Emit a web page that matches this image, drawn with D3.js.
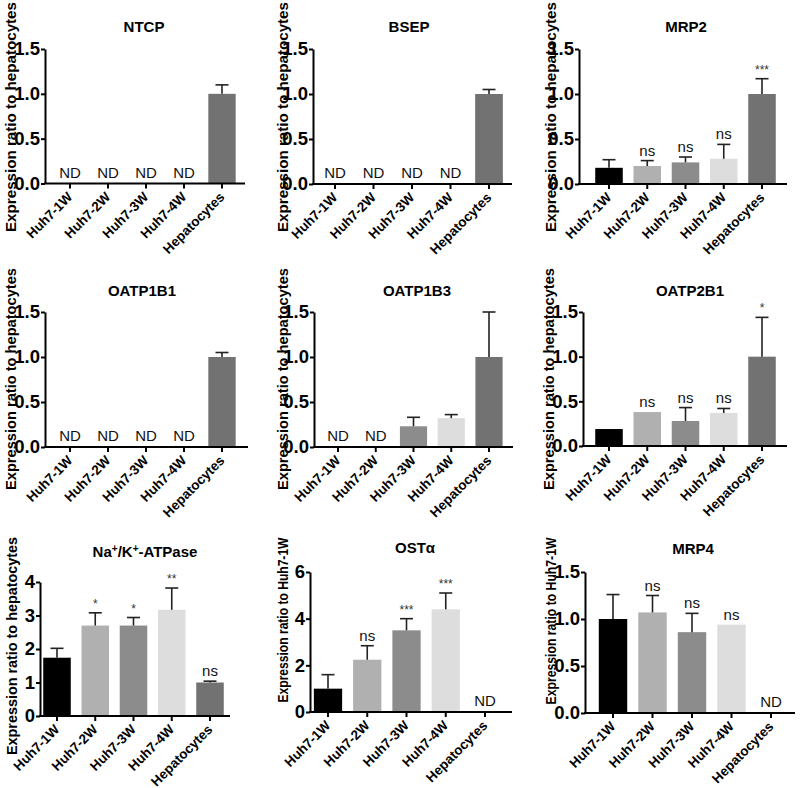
<!DOCTYPE html>
<html>
<head>
<meta charset="utf-8">
<script src="https://cdn.jsdelivr.net/npm/d3@7"></script>
<style>
  html, body { margin: 0; padding: 0; background: #fff; }
  svg { display: block; }
  text { font-family: "Liberation Sans", Arial, sans-serif; }
</style>
</head>
<body>
<svg id="chart" width="800" height="788"></svg>
<script>
// ---------------- DATA ----------------
const categories = ["Huh7-1W", "Huh7-2W", "Huh7-3W", "Huh7-4W", "Hepatocytes"];
const panelTitles = ["NTCP", "BSEP", "MRP2", "OATP1B1", "OATP1B3", "OATP2B1", "Na+/K+-ATPase", "OSTα", "MRP4"];
const yAxisTitles = [
  "Expression ratio to hepatocytes", "Expression ratio to hepatocytes", "Expression ratio to hepatocytes",
  "Expression ratio to hepatocytes", "Expression ratio to hepatocytes", "Expression ratio to hepatocytes",
  "Expression ratio to hepatocytes", "Expression ratio to Huh7-1W", "Expression ratio to Huh7-1W"
];
const yMaxValues = [1.5, 1.5, 1.5, 1.5, 1.5, 1.5, 4, 6, 1.5];
const yTickValues = [
  [0, 0.5, 1.0, 1.5], [0, 0.5, 1.0, 1.5], [0, 0.5, 1.0, 1.5],
  [0, 0.5, 1.0, 1.5], [0, 0.5, 1.0, 1.5], [0, 0.5, 1.0, 1.5],
  [0, 1, 2, 3, 4], [0, 2, 4, 6], [0, 0.5, 1.0, 1.5]
];
const yTickFormats = [".1f", ".1f", ".1f", ".1f", ".1f", ".1f", "d", "d", ".1f"];
// mean values (null = not detected)
const panelMeans = [
  [null, null, null, null, 1.00],
  [null, null, null, null, 1.00],
  [0.18, 0.20, 0.24, 0.28, 1.00],
  [null, null, null, null, 1.00],
  [null, null, 0.23, 0.32, 1.00],
  [0.19, 0.38, 0.28, 0.37, 1.00],
  [1.74, 2.70, 2.70, 3.17, 1.00],
  [1.00, 2.24, 3.50, 4.40, null],
  [1.00, 1.07, 0.86, 0.94, null]
];
// SD (upper error bar length)
const panelSD = [
  [null, null, null, null, 0.10],
  [null, null, null, null, 0.05],
  [0.09, 0.06, 0.06, 0.16, 0.17],
  [null, null, null, null, 0.05],
  [null, null, 0.10, 0.04, 0.50],
  [null, null, 0.15, 0.05, 0.44],
  [0.28, 0.38, 0.24, 0.65, 0.04],
  [0.60, 0.60, 0.50, 0.70, null],
  [0.26, 0.18, 0.20, null, null]
];
const panelMarks = [
  ["ND", "ND", "ND", "ND", ""],
  ["ND", "ND", "ND", "ND", ""],
  ["", "ns", "ns", "ns", "***"],
  ["ND", "ND", "ND", "ND", ""],
  ["ND", "ND", "", "", ""],
  ["", "ns", "ns", "ns", "*"],
  ["", "*", "*", "**", "ns"],
  ["", "ns", "***", "***", "ND"],
  ["", "ns", "ns", "ns", "ND"]
];

// ---------------- LAYOUT (pixels) ----------------
// [axisX, firstBarCenter, lastBarCenter, axisEnd, yTopPx, yZeroPx, titleX, titleBaseline, yLabelX, yLabelCenterY, yLabelLength]
const layout = [
  [45, 70, 222, 245, 49, 183.5, 144, 32, 10, 117, 230],
  [313, 335, 489, 512, 49, 184, 409, 32, 282, 117, 230],
  [579, 609, 762, 787, 49, 184, 686, 32, 550, 117, 230],
  [45, 70, 222, 248, 312, 447, 142, 296, 10, 379, 222],
  [314, 338, 489, 513, 312, 447, 417, 296, 282, 379, 222],
  [583, 609, 762, 787, 312, 446, 690, 296, 548, 379, 222],
  [40, 57, 210, 230, 582, 716, 145, 557, 11, 646, 218],
  [310, 328, 485, 512, 572, 712, 415, 553, 282, 620, 165],
  [585, 613, 771, 795, 572, 713, 693, 554, 550, 621, 167]
];
const barColors = ["#000000", "#b0b0b0", "#8c8c8c", "#dddddd", "#727272"];

const svg = d3.select("#chart");

panelTitles.forEach((title, i) => {
  const [axX, c0, c4, axEnd, yTop, yZero, titleX, titleY, labX, labY, labLen] = layout[i];
  const g = svg.append("g");
  const step = (c4 - c0) / 4;
  const x = d3.scaleBand().domain(categories)
    .range([c0 - step / 2, c4 + step / 2])
    .paddingInner(0.28).paddingOuter(0.14);
  const y = d3.scaleLinear().domain([0, yMaxValues[i]]).range([yZero, yTop]);

  const means = panelMeans[i], sds = panelSD[i], marks = panelMarks[i];
  const rows = categories.map((c, k) => ({ cat: c, k, mean: means[k], sd: sds[k], mark: marks[k] }));
  const cx = d => x(d.cat) + x.bandwidth() / 2;

  // bars
  g.selectAll("rect.bar").data(rows.filter(d => d.mean != null)).enter().append("rect")
    .attr("class", "bar")
    .attr("x", d => x(d.cat))
    .attr("width", x.bandwidth())
    .attr("y", d => y(d.mean))
    .attr("height", d => y(0) - y(d.mean))
    .attr("fill", d => barColors[d.k]);

  // error bars (upper only)
  const eb = rows.filter(d => d.mean != null && d.sd != null);
  g.selectAll("line.ev").data(eb).enter().append("line")
    .attr("x1", cx).attr("x2", cx)
    .attr("y1", d => y(d.mean)).attr("y2", d => y(d.mean + d.sd))
    .attr("stroke", "#222").attr("stroke-width", 1.6);
  g.selectAll("line.ec").data(eb).enter().append("line")
    .attr("x1", d => cx(d) - 6.5).attr("x2", d => cx(d) + 6.5)
    .attr("y1", d => y(d.mean + d.sd)).attr("y2", d => y(d.mean + d.sd))
    .attr("stroke", "#222").attr("stroke-width", 1.6);

  // marks (ND / ns / stars)
  g.selectAll("text.mark").data(rows.filter(d => d.mark)).enter().append("text")
    .attr("x", cx)
    .attr("y", d => {
      if (d.mean == null) return y(0) - 6;
      const top = d.mean + (d.sd || 0);
      return y(top) - 5;
    })
    .attr("text-anchor", "middle")
    .attr("font-size", d => d.mark === "ND" || d.mark === "ns" ? 15 : 12)
    .attr("fill", d => d.mark === "ND" || d.mark === "ns" ? "#111" : "#333")
    .text(d => d.mark);

  // y axis
  const yAxis = d3.axisLeft(y).tickValues(yTickValues[i])
    .tickFormat(d3.format(yTickFormats[i])).tickSize(4).tickSizeOuter(0).tickPadding(1);
  const ya = g.append("g").attr("transform", `translate(${axX},0)`).call(yAxis);
  ya.select(".domain").attr("stroke", "#000").attr("stroke-width", 2);
  ya.selectAll(".tick line").attr("stroke", "#000").attr("stroke-width", 2);
  ya.selectAll(".tick text").attr("font-size", 18.5).attr("font-weight", "bold").attr("fill", "#000")
    .attr("font-family", "'Liberation Sans', Arial, sans-serif");

  // x axis
  const xAxis = d3.axisBottom(x).tickSize(5).tickSizeOuter(0).tickFormat("");
  const xa = g.append("g").attr("transform", `translate(0,${yZero})`).call(xAxis);
  xa.select(".domain").remove();
  xa.selectAll(".tick line").attr("stroke", "#000").attr("stroke-width", 2);
  g.append("line").attr("x1", axX - 1).attr("x2", axEnd).attr("y1", yZero).attr("y2", yZero)
    .attr("stroke", "#000").attr("stroke-width", 2);

  g.selectAll("text.xl").data(categories).enter().append("text")
    .attr("transform", d => `translate(${x(d) + x.bandwidth() / 2},${yZero + 11}) rotate(-45)`)
    .attr("text-anchor", "end").attr("dy", "0.35em")
    .attr("font-size", 13.5).attr("font-weight", "bold").attr("fill", "#000")
    .text(d => d);

  // title
  const t = g.append("text")
    .attr("x", titleX).attr("y", titleY)
    .attr("text-anchor", "middle").attr("font-size", 15).attr("font-weight", "bold").attr("fill", "#000");
  if (title.indexOf("+") >= 0) {
    const parts = title.split("+");
    parts.forEach((p, pi) => {
      const sp = t.append("tspan").text(p);
      if (pi > 0) sp.attr("dy", 5);
      if (pi < parts.length - 1) {
        t.append("tspan").attr("font-size", 10).attr("dy", -5).text("+");
      }
    });
  } else {
    t.text(title);
  }

  // y label
  g.append("text")
    .attr("transform", `translate(${labX},${labY}) rotate(-90)`)
    .attr("text-anchor", "middle").attr("dominant-baseline", "central")
    .attr("font-size", 15).attr("font-weight", "bold").attr("fill", "#000")
    .attr("textLength", labLen).attr("lengthAdjust", "spacingAndGlyphs")
    .text(yAxisTitles[i]);
});
</script>
</body>
</html>
